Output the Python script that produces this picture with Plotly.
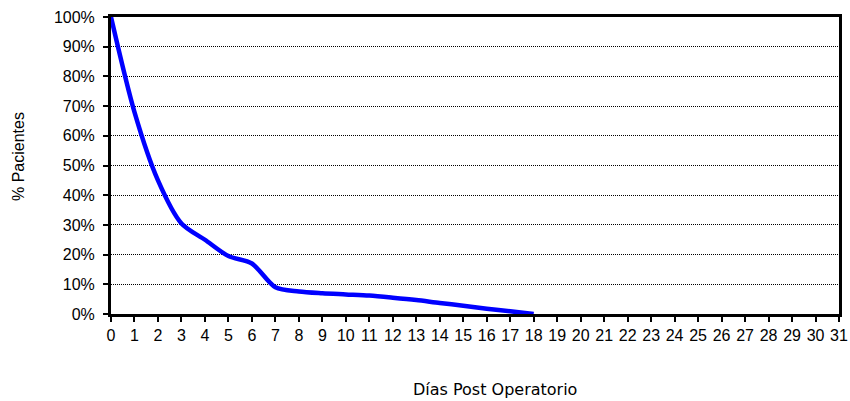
import plotly.graph_objects as go

# Days after surgery and share of patients still hospitalised
dias = list(range(0, 19))
pacientes = [1.00, 0.68, 0.45, 0.305, 0.25, 0.195, 0.17, 0.09, 0.076, 0.070,
             0.066, 0.062, 0.055, 0.047, 0.037, 0.028, 0.018, 0.009, 0.0]

x_ticks = list(range(0, 32))
y_ticks = [i / 10 for i in range(0, 11)]
y_tick_labels = [f"{i * 10}%" for i in range(0, 11)]

fig = go.Figure()
fig.add_trace(go.Scatter(
    x=dias, y=pacientes, mode="lines",
    line=dict(color="#0000FF", width=4.5, shape="spline", smoothing=0.8),
    hoverinfo="skip", showlegend=False,
))

tick_font = dict(family="Liberation Sans, Arial, sans-serif", size=16, color="black")

fig.update_layout(
    width=850, height=401,
    margin=dict(l=111, r=11, t=17, b=87),
    paper_bgcolor="white", plot_bgcolor="white",
    xaxis=dict(
        range=[0, 31], tickmode="array", tickvals=x_ticks,
        ticktext=[str(v) for v in x_ticks],
        showgrid=False, zeroline=False, automargin=False,
        showline=True, linecolor="black", linewidth=3, mirror=True,
        ticks="outside", ticklen=5, tickwidth=2, tickcolor="black",
        tickfont=tick_font,
    ),
    yaxis=dict(
        range=[0, 1], tickmode="array", tickvals=y_ticks, ticktext=y_tick_labels,
        showgrid=True, gridcolor="black", gridwidth=1, griddash="1px,1px",
        zeroline=False, automargin=False,
        showline=True, linecolor="black", linewidth=3, mirror=True,
        ticks="outside", ticklen=5, tickwidth=2, tickcolor="black",
        tickfont=tick_font, ticklabelstandoff=5,
    ),
    annotations=[
        dict(text="Días Post Operatorio", xref="paper", yref="paper",
             x=(495 - 111) / 728, y=-(389 - 314) / 297,
             xanchor="center", yanchor="middle", showarrow=False,
             font=dict(family="DejaVu Sans, Verdana, sans-serif", size=16, color="black")),
        dict(text="% Pacientes", xref="paper", yref="paper",
             x=-(111 - 18) / 728, y=(314 - 157) / 297, textangle=-90,
             xanchor="center", yanchor="middle", showarrow=False,
             font=dict(family="Liberation Sans, Arial, sans-serif", size=16, color="black")),
    ],
)

fig.write_html("out.html")
